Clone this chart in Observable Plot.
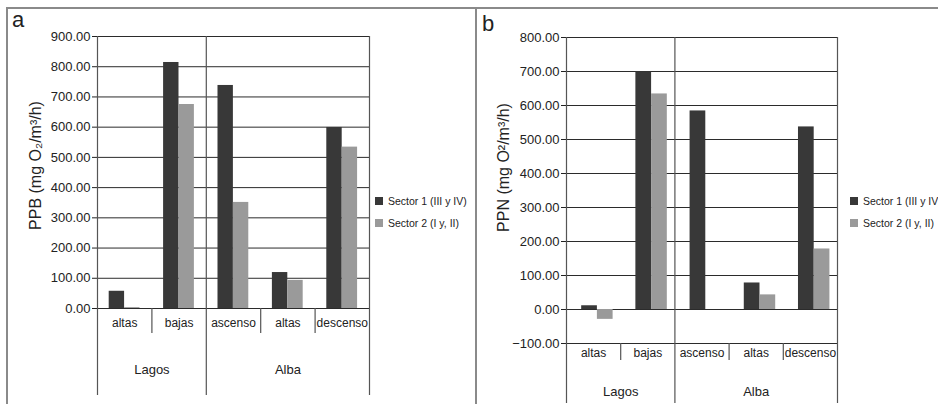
<!DOCTYPE html>
<html>
<head>
<meta charset="utf-8">
<script src="https://cdn.jsdelivr.net/npm/d3@7"></script>
<script src="https://cdn.jsdelivr.net/npm/@observablehq/plot@0.6"></script>
<style>
  html, body { margin: 0; padding: 0; background: #fff; }
  #root { position: relative; width: 938px; height: 404px; overflow: hidden; background: #fff;
          font-family: "Liberation Sans", Arial, sans-serif; color: #222; }
  .panel { position: absolute; top: 0; }
  .tag { position: absolute; font-size: 22px; line-height: 1; color: #222; }
  .legend { position: absolute; font-size: 10.5px; color: #222; white-space: nowrap; }
  .legend .row { display: flex; align-items: center; height: 22px; }
  .legend .sw { width: 8px; height: 8px; margin-right: 5px; flex: none; }
  .border { position: absolute; background: #8a8a8a; }
</style>
</head>
<body>
<div id="root"></div>
<script>
// ---- data ----
const groups = ["Lagos", "Lagos", "Alba", "Alba", "Alba"];
const subcats = ["altas", "bajas", "ascenso", "altas", "descenso"];
const seriesNames = ["Sector 1 (III y IV)", "Sector 2 (I y, II)"];
const seriesColors = ["#383838", "#9a9a9a"];
const ppbS1 = [57, 814, 738, 119, 599];
const ppbS2 = [3, 675, 351, 93, 534];
const ppnS1 = [11, 699, 584, 78, 537];
const ppnS2 = [-29, 634, 0, 43, 178];
const ppbTicks = [0, 100, 200, 300, 400, 500, 600, 700, 800, 900];
const ppnTicks = [-100, 0, 100, 200, 300, 400, 500, 600, 700, 800];
const ppbLabel = "PPB (mg O\u2082/m\u00B3/h)";
const ppnLabel = "PPN (mg O\u00B2/m\u00B3/h)";

const root = document.getElementById("root");
const FONT = '"Liberation Sans", Arial, sans-serif';

function makePanel(cfg) {
  const {s1, s2, ticks, yLabel, left, width, ml, mr, mt, mb, pad, barW,
         subDy, groupDy, subLine, groupLine, labelDx, labelDy, tag, tagX, tagY, legX} = cfg;
  const n = subcats.length;
  const rows = [];
  for (let i = 0; i < n; i++) {
    [s1, s2].forEach((vals, s) => {
      rows.push({i, series: seriesNames[s], value: vals[i],
                 x1: i + pad + s * barW, x2: i + pad + (s + 1) * barW});
    });
  }
  const groupBounds = [0];
  const subBounds = [];
  for (let i = 1; i < n; i++) (groups[i] !== groups[i - 1] ? groupBounds : subBounds).push(i);
  groupBounds.push(n);
  const groupInfo = [];
  for (let k = 0; k < groupBounds.length - 1; k++) {
    groupInfo.push({name: groups[groupBounds[k]], c: (groupBounds[k] + groupBounds[k + 1]) / 2});
  }
  const ymin = ticks[0], ymax = ticks[ticks.length - 1];
  const cats = subcats.map((s, i) => ({s, c: i + 0.5}));

  const plot = Plot.plot({
    width, height: 404,
    marginLeft: ml, marginRight: mr, marginTop: mt, marginBottom: mb,
    style: {fontSize: "13px", fontFamily: FONT, color: "#222", background: "transparent", overflow: "visible"},
    x: {domain: [0, n], axis: null},
    y: {domain: [ymin, ymax], ticks, tickFormat: d3.format(".2f"), tickSize: 5, tickPadding: 2, label: null},
    color: {domain: seriesNames, range: seriesColors},
    marks: [
      Plot.ruleY(ticks, {stroke: "#2b2b2b", strokeWidth: 1}),
      Plot.rectY(rows, {x1: "x1", x2: "x2", y: "value", fill: "series"}),
      Plot.ruleX(groupBounds, {x: d => d, stroke: "#555", strokeWidth: 1.2, insetBottom: -groupLine}),
      Plot.ruleX(subBounds, {x: d => d, y1: ymin, y2: ymin, stroke: "#555", strokeWidth: 1.2, insetBottom: -subLine}),
      Plot.text(cats, {x: "c", y: ymin, text: "s", dy: subDy, fontSize: 12, fill: "#222"}),
      Plot.text(groupInfo, {x: "c", y: ymin, text: "name", dy: groupDy, fontSize: 13, fill: "#222"}),
      Plot.text([yLabel], {frameAnchor: "left", textAnchor: "middle", dx: labelDx, dy: labelDy,
                           rotate: -90, fontSize: 16, fill: "#222"})
    ]
  });
  const wrap = document.createElement("div");
  wrap.className = "panel";
  wrap.style.left = left + "px";
  wrap.appendChild(plot);
  root.appendChild(wrap);

  const t = document.createElement("div");
  t.className = "tag";
  t.textContent = tag;
  t.style.left = tagX + "px";
  t.style.top = tagY + "px";
  root.appendChild(t);

  const color = plot.scale("color");
  const leg = document.createElement("div");
  leg.className = "legend";
  leg.style.left = legX + "px";
  leg.style.top = "190px";
  color.domain.forEach((d, k) => {
    const r = document.createElement("div");
    r.className = "row";
    const sw = document.createElement("span");
    sw.className = "sw";
    sw.style.background = color.range[k];
    const tx = document.createElement("span");
    tx.textContent = d;
    r.appendChild(sw); r.appendChild(tx);
    leg.appendChild(r);
  });
  root.appendChild(leg);
}

// borders
[[6, 7, 932, 2], [6, 7, 2, 400], [475, 7, 2, 400]].forEach(([x, y, w, h]) => {
  const b = document.createElement("div");
  b.className = "border";
  Object.assign(b.style, {left: x + "px", top: y + "px", width: w + "px", height: h + "px"});
  root.appendChild(b);
});

makePanel({s1: ppbS1, s2: ppbS2, ticks: ppbTicks, yLabel: ppbLabel,
  left: 0, width: 476, ml: 97, mr: 107, mt: 36, mb: 96, pad: 0.215, barW: 0.283,
  subDy: 15, groupDy: 61, subLine: 25, groupLine: 87, labelDx: -62, labelDy: -7,
  tag: "a", tagX: 12, tagY: 9, legX: 375});

makePanel({s1: ppnS1, s2: ppnS2, ticks: ppnTicks, yLabel: ppnLabel,
  left: 476, width: 462, ml: 90, mr: 101, mt: 37, mb: 61, pad: 0.28, barW: 0.29,
  subDy: 10, groupDy: 48, subLine: 17, groupLine: 60, labelDx: -63, labelDy: -23,
  tag: "b", tagX: 482, tagY: 13, legX: 850});
</script>
</body>
</html>
